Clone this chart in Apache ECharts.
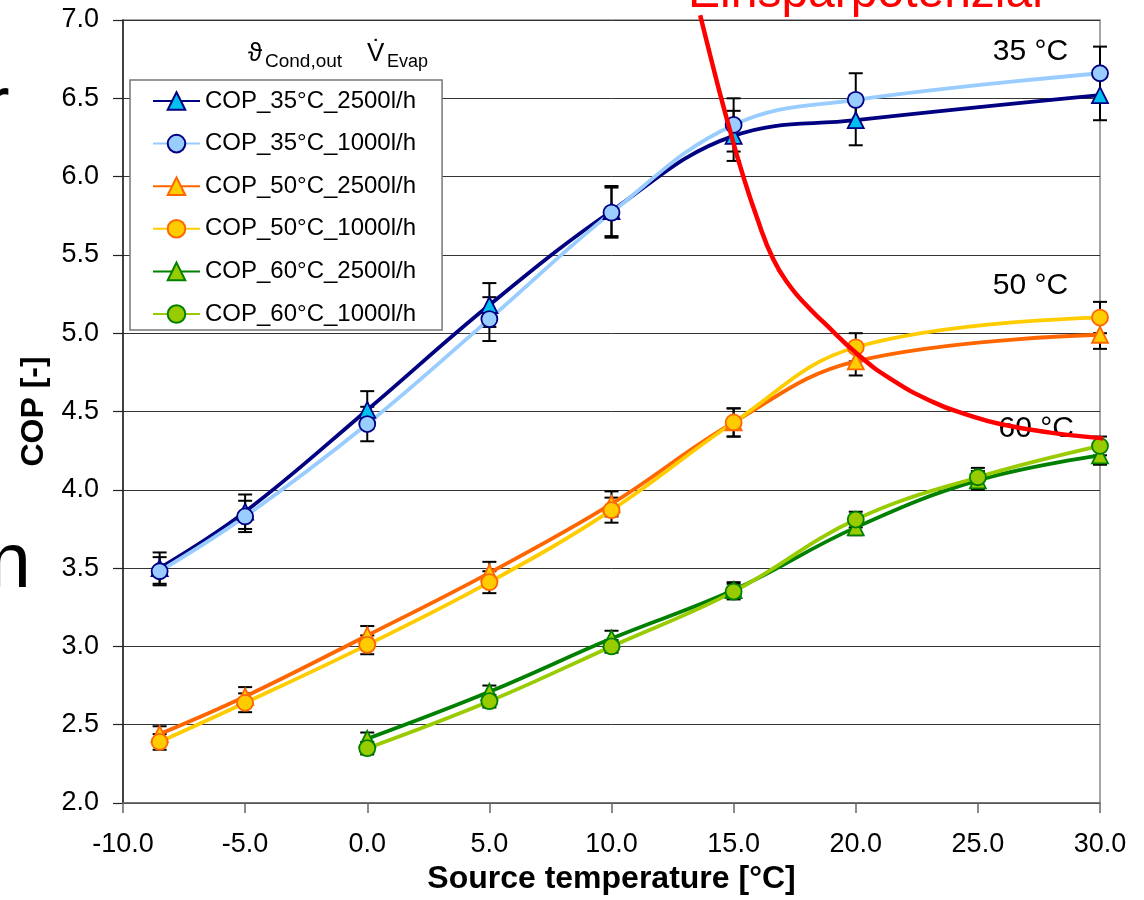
<!DOCTYPE html>
<html>
<head>
<meta charset="utf-8">
<script src="https://cdn.jsdelivr.net/npm/echarts@6/dist/echarts.min.js"></script>
<style>
  html, body { margin: 0; padding: 0; background: #fff; }
  #chart { width: 1144px; height: 900px; }
</style>
</head>
<body>
<div id="chart"></div>
<script>
const FONT = "'Liberation Sans', Arial, sans-serif";

// source temperature points [°C]
const X_MAIN = [-8.5, -5, 0, 5, 10, 15, 20, 30];
const X_60 = [0, 5, 10, 15, 20, 25, 30];

// COP values and error bar half-widths
const COP_35_2500 = [3.50, 3.86, 4.51, 5.18, 5.78, 6.26, 6.36, 6.52];
const ERR_35_2500 = [0.10, 0.11, 0.12, 0.14, 0.16, 0.16, 0.16, 0.16];
const COP_35_1000 = [3.48, 3.83, 4.42, 5.09, 5.77, 6.33, 6.49, 6.66];
const ERR_35_1000 = [0.09, 0.10, 0.11, 0.14, 0.16, 0.17, 0.17, 0.17];
const COP_50_2500 = [2.44, 2.68, 3.07, 3.47, 3.91, 4.43, 4.82, 4.99];
const ERR_50_2500 = [0.05, 0.06, 0.06, 0.07, 0.08, 0.09, 0.09, 0.09];
const COP_50_1000 = [2.39, 2.64, 3.01, 3.41, 3.87, 4.43, 4.91, 5.10];
const ERR_50_1000 = [0.05, 0.06, 0.06, 0.07, 0.08, 0.09, 0.09, 0.10];
const COP_60_2500 = [2.41, 2.71, 3.05, 3.36, 3.76, 4.06, 4.22];
const ERR_60_2500 = [0.04, 0.04, 0.05, 0.05, 0.05, 0.06, 0.06];
const COP_60_1000 = [2.35, 2.65, 3.00, 3.35, 3.81, 4.08, 4.28];
const ERR_60_1000 = [0.04, 0.04, 0.04, 0.05, 0.05, 0.06, 0.06];

const SERIES_NAMES = [
  "COP_35°C_2500l/h", "COP_35°C_1000l/h",
  "COP_50°C_2500l/h", "COP_50°C_1000l/h",
  "COP_60°C_2500l/h", "COP_60°C_1000l/h",
];

// red "Einsparpotenzial" curve (runs past the plot edges)
const RED_X = [13.63, 14.04, 14.45, 14.86, 15.27, 15.95, 16.63, 17.31, 18.0, 18.68, 20.04, 21.41, 23.17, 24.55, 25.91, 27.96, 30.0, 30.9];
const RED_Y = [7.03, 6.775, 6.525, 6.29, 6.065, 5.74, 5.47, 5.30, 5.175, 5.07, 4.87, 4.71, 4.56, 4.48, 4.42, 4.365, 4.33, 4.315];

// condenser outlet temperature labels
const TEMP_LABELS = ["35 °C", "50 °C", "60 °C"];
const TEMP_LABEL_X = [27.15, 27.15, 27.39];
const TEMP_LABEL_Y = [6.80, 5.30, 4.39];

const LINES = [
  { x: X_MAIN, y: COP_35_2500, err: ERR_35_2500, line: "#000080", fill: "#00c0f0", border: "#000080", symbol: "triangle" },
  { x: X_MAIN, y: COP_35_1000, err: ERR_35_1000, line: "#99ccff", fill: "#99ccff", border: "#000080", symbol: "circle" },
  { x: X_MAIN, y: COP_50_2500, err: ERR_50_2500, line: "#ff6600", fill: "#ffcc00", border: "#ff6600", symbol: "triangle" },
  { x: X_MAIN, y: COP_50_1000, err: ERR_50_1000, line: "#ffcc00", fill: "#ffcc00", border: "#ff6600", symbol: "circle" },
  { x: X_60, y: COP_60_2500, err: ERR_60_2500, line: "#008000", fill: "#99cc00", border: "#008000", symbol: "triangle" },
  { x: X_60, y: COP_60_1000, err: ERR_60_1000, line: "#99cc00", fill: "#99cc00", border: "#008000", symbol: "circle" },
];

function errorBars(s) {
  return {
    type: "custom",
    z: 1,
    silent: true,
    data: s.x.map((x, i) => [x, s.y[i] - s.err[i], s.y[i] + s.err[i]]),
    encode: { x: 0, y: [1, 2] },
    renderItem(params, api) {
      const lo = api.coord([api.value(0), api.value(1)]);
      const hi = api.coord([api.value(0), api.value(2)]);
      const w = 7;
      const style = { stroke: "#000", lineWidth: 2 };
      return {
        type: "group",
        children: [
          { type: "line", shape: { x1: lo[0], y1: lo[1], x2: hi[0], y2: hi[1] }, style },
          { type: "line", shape: { x1: lo[0] - w, y1: lo[1], x2: lo[0] + w, y2: lo[1] }, style },
          { type: "line", shape: { x1: hi[0] - w, y1: hi[1], x2: hi[0] + w, y2: hi[1] }, style },
        ],
      };
    },
  };
}

const lineSeries = LINES.map((s, i) => ({
  name: SERIES_NAMES[i],
  type: "line",
  z: 2,
  smooth: 0.4,
  data: s.x.map((x, j) => [x, s.y[j]]),
  symbol: s.symbol,
  symbolSize: 16,
  lineStyle: { color: s.line, width: 3.8 },
  itemStyle: { color: s.fill, borderColor: s.border, borderWidth: 1.8 },
}));

function text(x, y, str, size, opts) {
  return {
    type: "text", x, y, silent: true, z: 50,
    style: Object.assign({
      text: str, fill: "#000", font: size + "px " + FONT,
      align: "left", verticalAlign: "middle",
      textAlign: "left", textVerticalAlign: "middle",
    }, opts || {}),
  };
}

const ch = echarts.init(document.getElementById("chart"), null, { renderer: "canvas" });

ch.setOption({
  animation: false,
  backgroundColor: "#fff",
  textStyle: { fontFamily: FONT },
  grid: { left: 123, right: 44, top: 20, bottom: 97, show: true, borderColor: "#888", borderWidth: 1.5, backgroundColor: "transparent" },
  legend: {
    data: SERIES_NAMES,
    orient: "vertical",
    left: 130,
    top: 80,
    itemWidth: 47,
    itemHeight: 22,
    itemGap: 18.6,
    padding: [9, 26, 4, 22],
    borderColor: "#777",
    borderWidth: 1.5,
    backgroundColor: "#fff",
    textStyle: { fontSize: 24, fontFamily: FONT, color: "#000" },
  },
  xAxis: {
    type: "value",
    min: -10,
    max: 30,
    interval: 5,
    name: "Source temperature [°C]",
    nameLocation: "middle",
    nameGap: 60,
    nameTextStyle: { fontSize: 32, fontWeight: "bold", color: "#000", fontFamily: FONT },
    axisLine: { show: true, onZero: false, lineStyle: { color: "#666", width: 1.5 } },
    axisTick: { show: true, length: 10, lineStyle: { color: "#666", width: 1.5 } },
    axisLabel: { fontSize: 27, color: "#000", margin: 28, formatter: (v) => v.toFixed(1) },
    splitLine: { show: false },
  },
  yAxis: {
    type: "value",
    min: 2,
    max: 7,
    interval: 0.5,
    name: "COP [-]",
    nameLocation: "middle",
    nameGap: 70,
    nameRotate: 90,
    nameTextStyle: { fontSize: 32, fontWeight: "bold", color: "#000", fontFamily: FONT },
    axisLine: { show: true, onZero: false, lineStyle: { color: "#222", width: 1.5 } },
    axisTick: { show: true, length: 10, lineStyle: { color: "#222", width: 1.2 } },
    axisLabel: { fontSize: 27, color: "#000", margin: 24, formatter: (v) => v.toFixed(1) },
    splitLine: { show: true, lineStyle: { color: "#333", width: 1 } },
  },
  series: [
    ...LINES.map(errorBars),
    ...lineSeries,
    {
      type: "scatter",
      z: 4,
      silent: true,
      symbolSize: 0,
      itemStyle: { opacity: 1 },
      data: TEMP_LABELS.map((t, i) => ({ name: t, value: [TEMP_LABEL_X[i], TEMP_LABEL_Y[i]] })),
      label: { show: true, position: "inside", formatter: (p) => p.name, fontSize: 30, color: "#000", opacity: 1, fontFamily: FONT },
    },
    {
      type: "line",
      z: 10,
      silent: true,
      clip: false,
      smooth: 0.5,
      symbol: "none",
      data: RED_X.map((x, i) => [x, RED_Y[i]]),
      lineStyle: { color: "#ff0000", width: 4.5 },
    },
  ],
  graphic: [
    text(688, -6, "Einsparpotenzial", 48, { fill: "#ff0000" }),
    text(248, 54, "ϑ", 26),
    text(265, 61.5, "Cond,out", 19),
    text(367, 54, "V\u0307", 26),
    text(387, 62, "Evap", 18),
    text(-16, 109, "r", 77),
    text(-12, 566, "n", 77),
  ],
});
</script>
</body>
</html>
